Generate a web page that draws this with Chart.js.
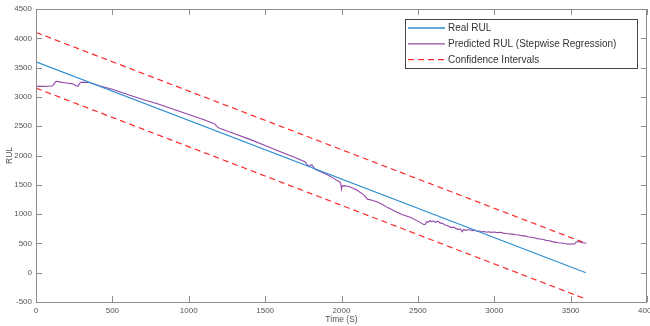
<!DOCTYPE html>
<html>
<head>
<meta charset="utf-8">
<script src="https://cdn.jsdelivr.net/npm/chart.js@4.4.0/dist/chart.umd.min.js"></script>
<style>
  html, body { margin: 0; padding: 0; background: #fff; }
</style>
</head>
<body>
<canvas id="chart" width="650" height="326"></canvas>
<script>
// axis ranges / ticks
const X_MIN = 0, X_MAX = 4000, X_STEP = 500;
const Y_MIN = -500, Y_MAX = 4500, Y_STEP = 500;

// real RUL (straight line)
const realTime = [0, 3600];
const realRul = [3600, 0];

// confidence band edges
const ciTime = [0, 3600];
const ciUpper = [4100, 500];
const ciLower = [3150, -450];

// predicted RUL (stepwise regression)
const predTime = [
  0, 40, 80, 110, 120, 130, 140, 160, 200, 240, 265, 275, 285, 295, 320, 350, 380, 420,
  500, 600, 700, 800, 900, 1000, 1100, 1150, 1170, 1190, 1210, 1300, 1400, 1500, 1600,
  1700, 1760, 1785, 1800, 1810, 1825, 1850, 1900, 1950, 1990, 1995, 2000, 2005, 2015,
  2050, 2100, 2150, 2170, 2200, 2230, 2260, 2300, 2350, 2400, 2450, 2500, 2540,
  2550, 2560, 2570, 2580, 2590, 2600, 2615, 2630, 2645, 2660, 2675, 2690, 2705, 2720,
  2735, 2750, 2765, 2780, 2790, 2800, 2815, 2830, 2845, 2860, 2875, 2890, 2905, 2920,
  2935, 2950, 2965, 2980, 3000, 3020, 3040, 3060, 3080, 3100, 3120, 3140, 3160, 3180,
  3200, 3220, 3240, 3260, 3280, 3300, 3320, 3340, 3360, 3380, 3400, 3420, 3440, 3460,
  3480, 3500, 3515, 3525, 3535, 3550, 3565, 3580, 3595, 3600
];
const predRul = [
  3180, 3180, 3182, 3190, 3230, 3262, 3265, 3252, 3237, 3222, 3185, 3180, 3230, 3248, 3250, 3246, 3220, 3185,
  3130, 3040, 2955, 2880, 2790, 2700, 2610, 2560, 2540, 2480, 2455, 2370, 2275, 2170, 2065,
  1960, 1895, 1815, 1840, 1835, 1770, 1740, 1680, 1610, 1545, 1520, 1425, 1480, 1485,
  1470, 1410, 1320, 1255, 1235, 1212, 1175, 1115, 1050, 990, 945, 880, 820,
  830, 875, 862, 890, 868, 884, 860, 878, 850, 842, 820, 805, 790, 770,
  778, 752, 740, 745, 700, 735, 722, 738, 730, 718, 725, 705, 712, 696,
  702, 690, 698, 688, 694, 684, 690, 676, 668, 662, 658, 648, 644, 632,
  628, 612, 604, 596, 582, 574, 566, 552, 545, 530, 522, 512, 508, 498,
  492, 488, 494, 486, 520, 532, 520, 510, 508, 505
];

const toPoints = (xs, ys) => xs.map((x, i) => ({ x, y: ys[i] }));

const BLUE = '#2f8fd3';
const PURPLE = '#9446a6';
const RED = '#ff2a2a';
const AXIS = '#8c8c8c';
const TEXT = '#555555';
const FONT = 'Liberation Sans, Arial, Helvetica, sans-serif';

// MATLAB style box with inward ticks on every side
const boxPlugin = {
  id: 'matlab_box',
  afterDraw: chart => {
    const { ctx, chartArea: a, scales } = chart;
    ctx.save();
    ctx.strokeStyle = AXIS;
    ctx.lineWidth = 1;
    ctx.strokeRect(Math.round(a.left) + 0.5, Math.round(a.top) + 0.5,
      Math.round(a.right - a.left) - 1, Math.round(a.bottom - a.top));
    const len = 6;
    ctx.beginPath();
    scales.x.ticks.forEach(t => {
      const px = Math.round(scales.x.getPixelForValue(t.value)) + 0.5;
      ctx.moveTo(px, a.bottom);
      ctx.lineTo(px, a.bottom - len);
      ctx.moveTo(px, a.top);
      ctx.lineTo(px, a.top + len);
    });
    scales.y.ticks.forEach(t => {
      const py = Math.round(scales.y.getPixelForValue(t.value)) + 0.5;
      ctx.moveTo(a.left, py);
      ctx.lineTo(a.left + len, py);
      ctx.moveTo(a.right, py);
      ctx.lineTo(a.right - len, py);
    });
    ctx.stroke();
    ctx.restore();
  },
};

// legend box inside the plot, top right
const legendPlugin = {
  id: 'inner_legend',
  afterDraw: chart => {
    const { ctx } = chart;
    const seen = new Set();
    const items = chart.data.datasets.filter(ds => {
      if (seen.has(ds.label)) return false;
      seen.add(ds.label);
      return true;
    });
    const left = 405, top = 19, width = 232, rowH = 15.8;
    const height = 49;
    ctx.save();
    ctx.fillStyle = '#ffffff';
    ctx.fillRect(left, top, width, height);
    ctx.strokeStyle = '#444444';
    ctx.lineWidth = 1;
    ctx.strokeRect(left + 0.5, top + 0.5, width, height);
    ctx.font = '10px ' + FONT;
    ctx.textBaseline = 'middle';
    items.forEach((ds, i) => {
      const y = top + 9 + i * rowH;
      ctx.beginPath();
      ctx.strokeStyle = ds.borderColor;
      ctx.lineWidth = 1.3;
      ctx.setLineDash(ds.borderDash || []);
      ctx.moveTo(left + 3, y);
      ctx.lineTo(left + 40, y);
      ctx.stroke();
      ctx.setLineDash([]);
      ctx.fillStyle = '#333333';
      ctx.fillText(ds.label, left + 43, y + 0.5);
    });
    ctx.restore();
  },
};

const lineDefaults = {
  pointRadius: 0,
  pointHoverRadius: 0,
  borderWidth: 1.2,
  tension: 0,
  fill: false,
};

const plainNumber = value => String(value);

new Chart(document.getElementById('chart'), {
  type: 'line',
  data: {
    datasets: [
      { ...lineDefaults, label: 'Real RUL', data: toPoints(realTime, realRul), borderColor: BLUE },
      { ...lineDefaults, label: 'Predicted RUL (Stepwise Regression)', data: toPoints(predTime, predRul), borderColor: PURPLE, borderWidth: 1.1 },
      { ...lineDefaults, label: 'Confidence Intervals', data: toPoints(ciTime, ciUpper), borderColor: RED, borderDash: [6, 4] },
      { ...lineDefaults, label: 'Confidence Intervals', data: toPoints(ciTime, ciLower), borderColor: RED, borderDash: [6, 4] },
    ],
  },
  plugins: [boxPlugin, legendPlugin],
  options: {
    responsive: false,
    animation: false,
    events: [],
    layout: {
      autoPadding: false,
      padding: { left: 0, top: 9, right: 3, bottom: 0 },
    },
    plugins: {
      legend: { display: false },
      tooltip: { enabled: false },
    },
    scales: {
      x: {
        type: 'linear',
        min: X_MIN,
        max: X_MAX,
        grid: { display: false, drawTicks: false },
        border: { display: false },
        ticks: {
          stepSize: X_STEP,
          padding: 4,
          maxRotation: 0,
          color: TEXT,
          font: { size: 8, family: FONT },
          callback: plainNumber,
        },
        title: {
          display: true,
          text: 'Time (S)',
          color: TEXT,
          padding: { top: 0, bottom: 1 },
          font: { size: 8.5, family: FONT },
        },
        afterFit: scale => {
          scale.height = 24;
          scale.paddingLeft = 0;
          scale.paddingRight = 0;
        },
      },
      y: {
        type: 'linear',
        min: Y_MIN,
        max: Y_MAX,
        grid: { display: false, drawTicks: false },
        border: { display: false },
        ticks: {
          stepSize: Y_STEP,
          padding: 4,
          color: TEXT,
          font: { size: 8, family: FONT },
          callback: plainNumber,
        },
        title: {
          display: true,
          text: 'RUL',
          color: TEXT,
          padding: { top: 5, bottom: 0 },
          font: { size: 8.5, family: FONT },
        },
        afterFit: scale => {
          scale.width = 36;
          scale.paddingTop = 0;
          scale.paddingBottom = 0;
        },
      },
    },
  },
});
</script>
</body>
</html>
